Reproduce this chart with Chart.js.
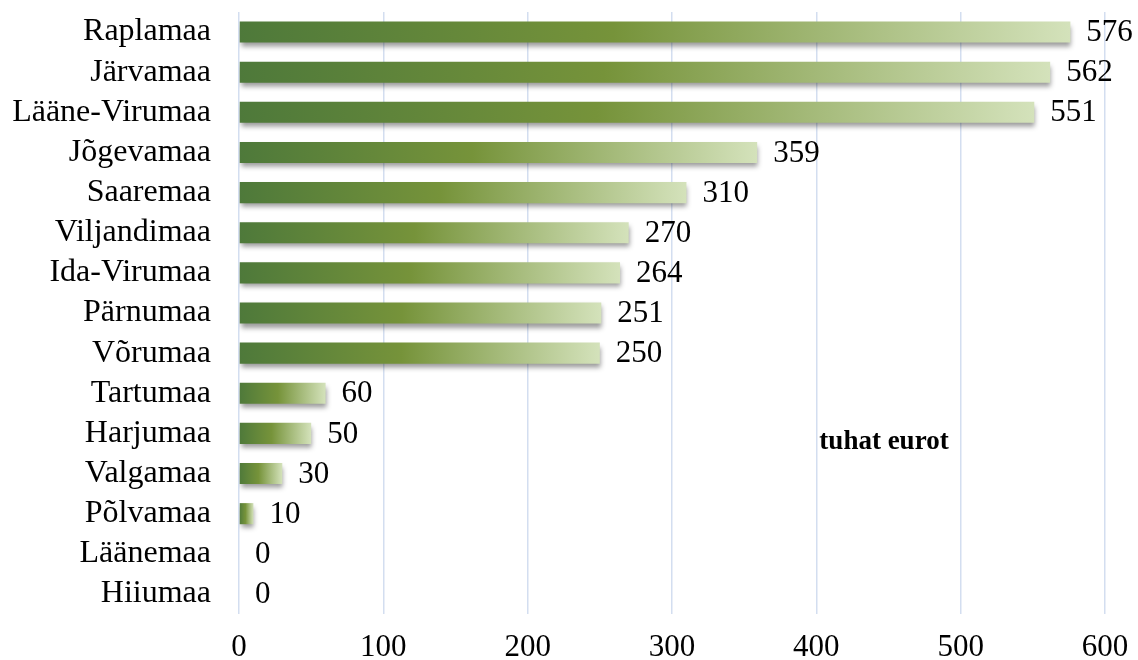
<!DOCTYPE html>
<html>
<head>
<meta charset="utf-8">
<script src="https://cdn.jsdelivr.net/npm/chart.js@4"></script>
<style>
  body { margin: 0; background: #fff; }
  #wrap { width: 1138px; height: 660px; }
</style>
</head>
<body>
<div id="wrap"><canvas id="grafico"></canvas></div>
<script>
// Dados do gráfico
const maakonnad = ['Raplamaa', 'Järvamaa', 'Lääne-Virumaa', 'Jõgevamaa', 'Saaremaa', 'Viljandimaa',
  'Ida-Virumaa', 'Pärnumaa', 'Võrumaa', 'Tartumaa', 'Harjumaa', 'Valgamaa', 'Põlvamaa', 'Läänemaa', 'Hiiumaa'];
const summad = [576, 562, 551, 359, 310, 270, 264, 251, 250, 60, 50, 30, 10, 0, 0];
const xTicks = [0, 100, 200, 300, 400, 500, 600];
const uhik = 'tuhat eurot';

const fonte = '"Liberation Serif", "Times New Roman", serif';

// gradiente por barra, do escuro para o claro
function corBarra(context) {
  const chart = context.chart;
  if (!chart.chartArea || context.type !== 'data') return '#76933a';
  const x = chart.scales.x;
  const x0 = x.getPixelForValue(0);
  const x1 = x.getPixelForValue(context.raw);
  if (x1 - x0 < 1) return '#4e793a';
  const g = chart.ctx.createLinearGradient(x0, 0, x1, 0);
  g.addColorStop(0, '#4e793a');
  g.addColorStop(0.45, '#76933a');
  g.addColorStop(1, '#d4e2bb');
  return g;
}

// sombra nas barras + rótulos de valor
const pluginBarras = {
  id: 'pluginBarras',
  beforeDatasetsDraw(chart) {
    const ctx = chart.ctx;
    ctx.save();
    ctx.shadowColor = 'rgba(0,0,0,0.4)';
    ctx.shadowBlur = 5;
    ctx.shadowOffsetX = 1;
    ctx.shadowOffsetY = 4;
  },
  afterDatasetsDraw(chart) {
    const ctx = chart.ctx;
    ctx.restore();
    const meta = chart.getDatasetMeta(0);
    ctx.save();
    ctx.fillStyle = '#000';
    ctx.font = '31px ' + fonte;
    ctx.textBaseline = 'middle';
    ctx.textAlign = 'left';
    meta.data.forEach((bar, i) => {
      const x = chart.scales.x.getPixelForValue(summad[i]);
      ctx.fillText(String(summad[i]), x + 16, bar.y + 1);
    });
    ctx.font = 'bold 27px ' + fonte;
    ctx.textAlign = 'center';
    ctx.fillText(uhik, 884, 442);
    ctx.restore();
  }
};

const ctx = document.getElementById('grafico').getContext('2d');
const grafico = new Chart(ctx, {
  type: 'bar',
  data: {
    labels: maakonnad,
    datasets: [{
      data: summad,
      backgroundColor: corBarra,
      borderWidth: 0,
      barPercentage: 0.525,
      categoryPercentage: 1
    }]
  },
  options: {
    indexAxis: 'y',
    responsive: true,
    maintainAspectRatio: false,
    animation: false,
    layout: { padding: { left: 0, right: 33, top: 12, bottom: 0 } },
    plugins: {
      legend: { display: false },
      tooltip: { enabled: false }
    },
    scales: {
      x: {
        min: 0,
        max: 600,
        afterBuildTicks(scale) {
          scale.ticks = xTicks.map(v => ({ value: v }));
        },
        afterFit(scale) {
          scale.height = 46;
          scale.paddingLeft = 0;
          scale.paddingRight = 0;
        },
        grid: { color: '#d3def0', lineWidth: 1.5, drawTicks: false },
        border: { display: false },
        ticks: {
          color: '#000',
          padding: 15,
          font: { family: fonte, size: 31 }
        }
      },
      y: {
        afterFit(scale) {
          scale.width = 239;
          scale.paddingTop = 0;
          scale.paddingBottom = 0;
        },
        grid: { display: false, drawTicks: false },
        border: { display: false },
        ticks: {
          color: '#000',
          padding: 28,
          autoSkip: false,
          font: { family: fonte, size: 32 }
        }
      }
    }
  },
  plugins: [pluginBarras]
});
</script>
</body>
</html>
